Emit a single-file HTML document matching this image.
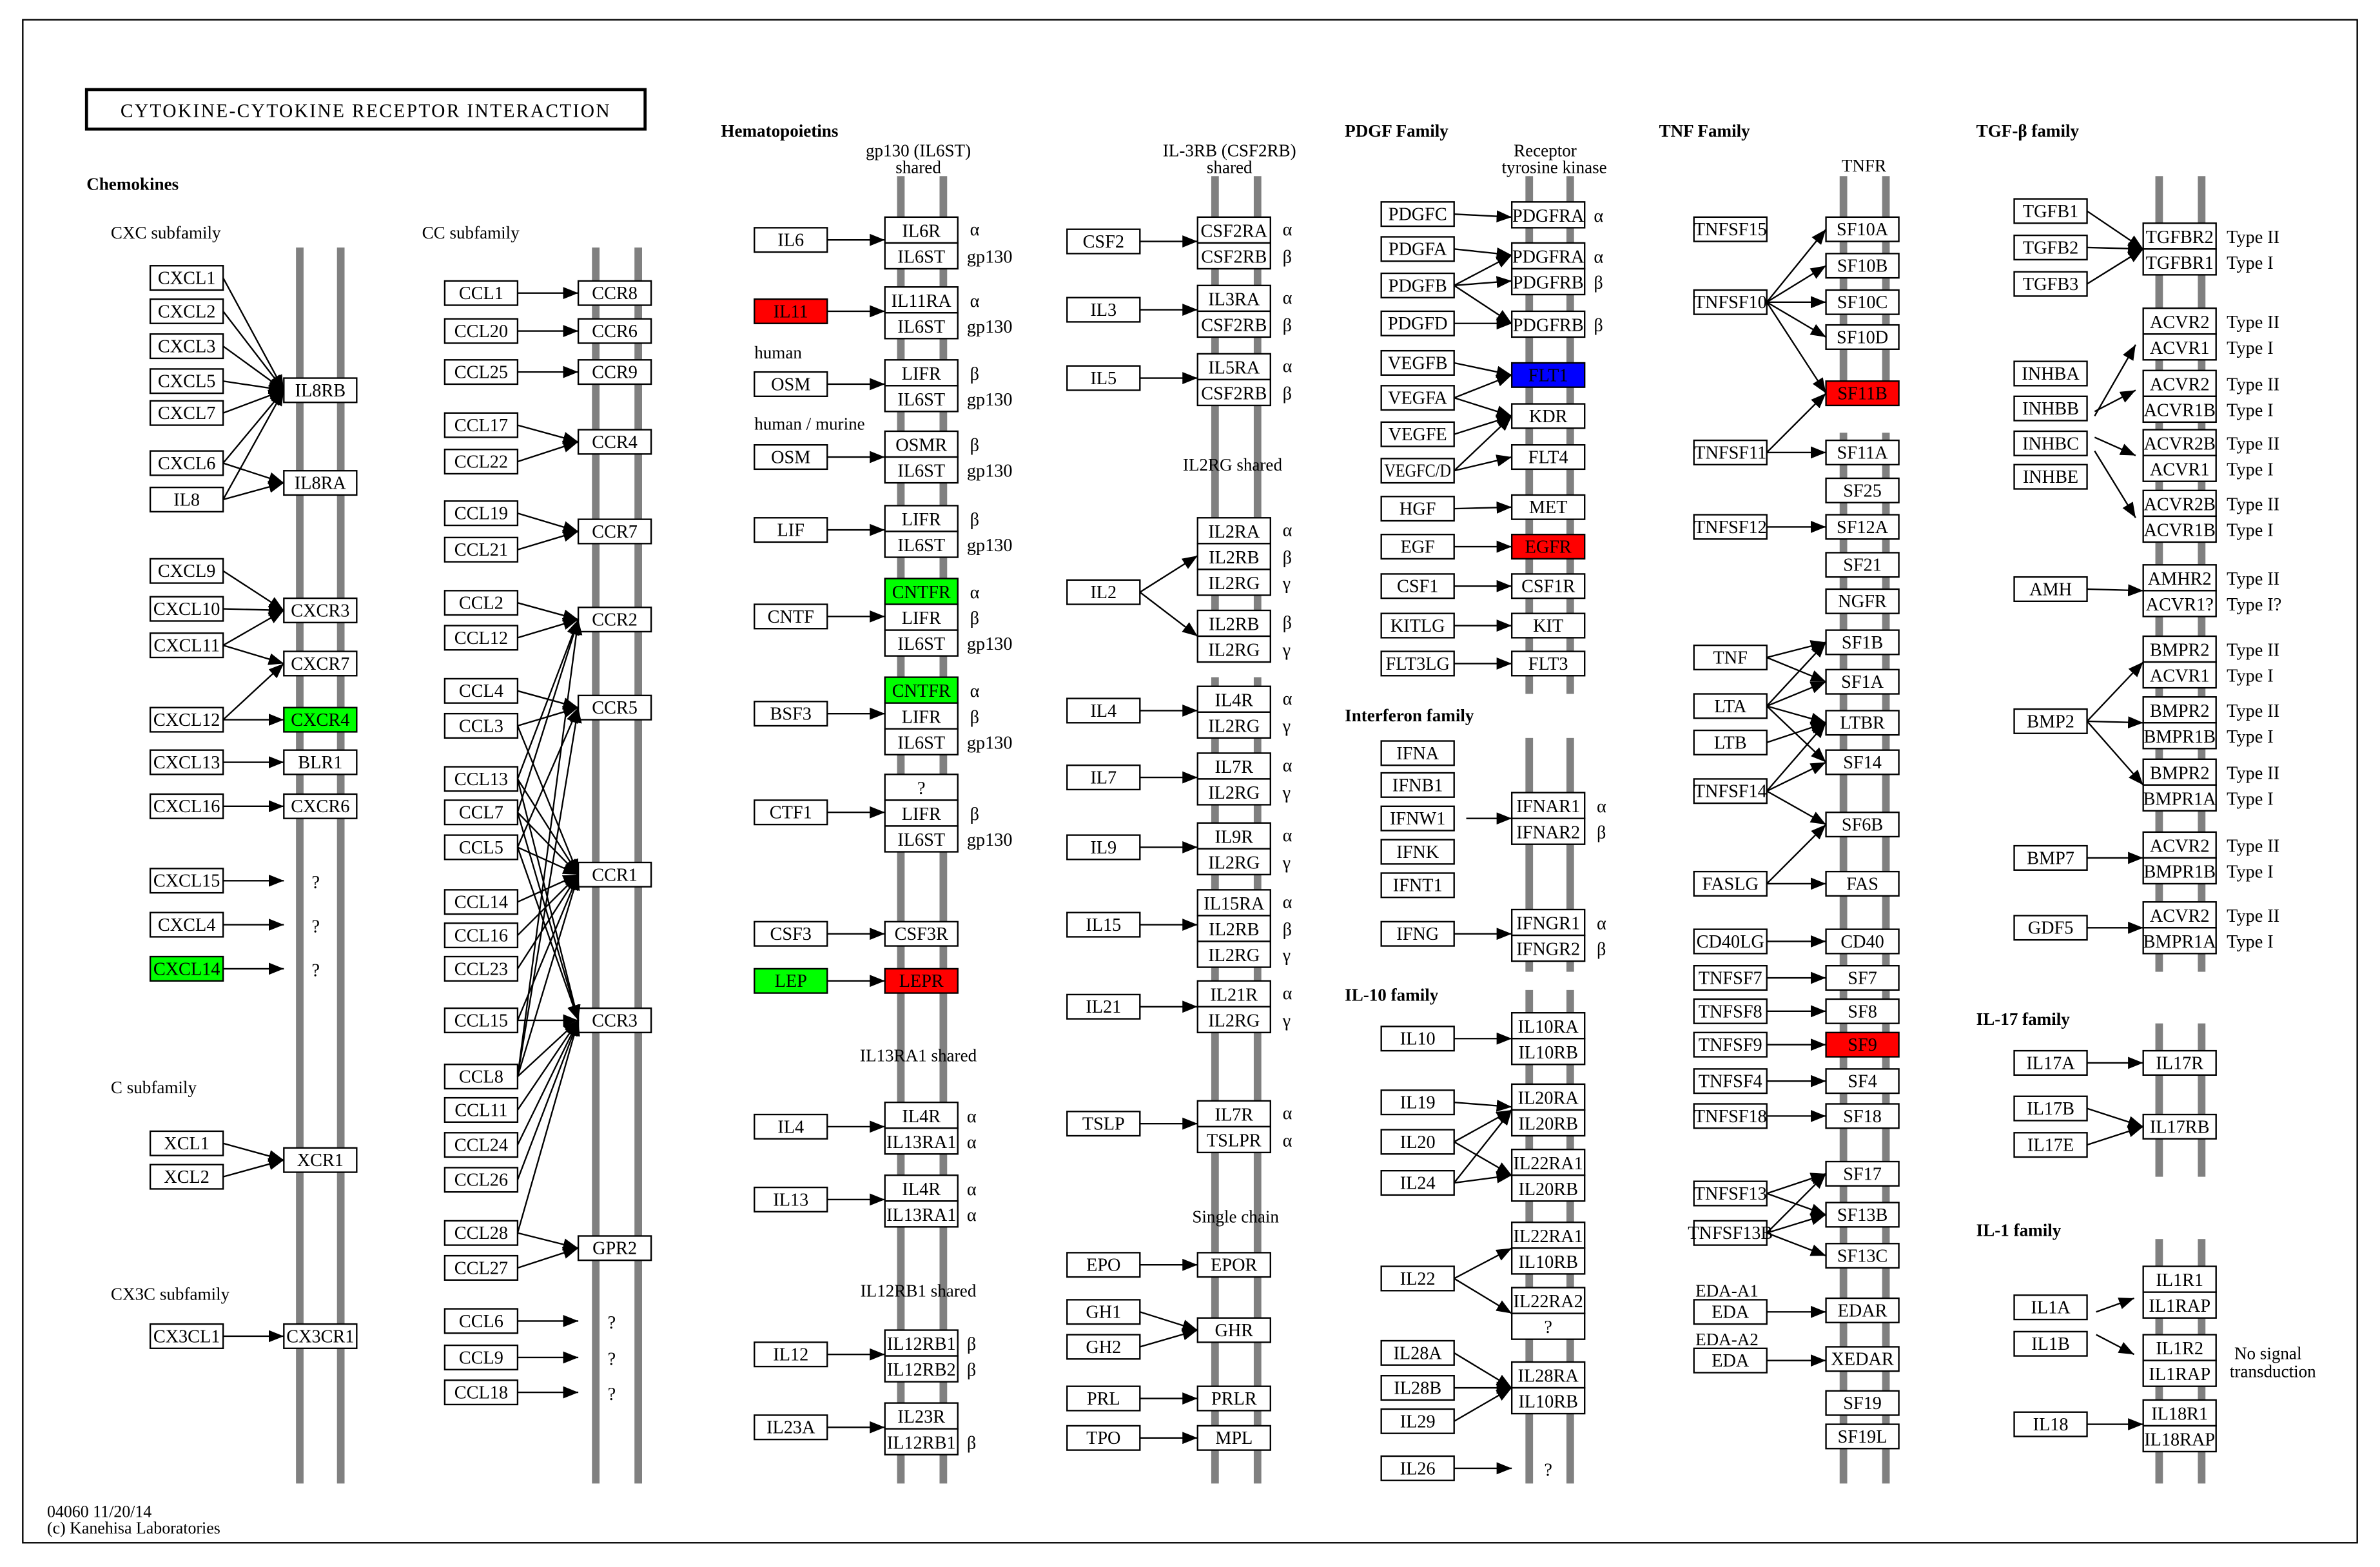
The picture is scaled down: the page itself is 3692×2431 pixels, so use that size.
<!DOCTYPE html>
<html><head><meta charset="utf-8">
<style>
html,body{margin:0;padding:0;background:#fff;}
svg{display:block;}
text{font-family:"Liberation Serif",serif;font-size:12px;fill:#000;}
.c text,text.c{text-anchor:middle;}
rect{fill:#fff;stroke:#000;stroke-width:1;}
.bar{fill:#808080;stroke:none;}
line,polyline{stroke:#000;stroke-width:1;fill:none;}
.h{font-weight:bold;font-size:11.5px;}
.s{font-size:11.5px;}
.r{fill:#ff0000;}
.g{fill:#00ff00;}
.bl{fill:#0000ff;}
</style></head>
<body>
<svg width="3692" height="2431" viewBox="0 0 1568 1032" preserveAspectRatio="none" xmlns="http://www.w3.org/2000/svg">
<defs>
<marker id="a" viewBox="0 0 10 8" refX="10" refY="4" markerWidth="10" markerHeight="8" markerUnits="userSpaceOnUse" orient="auto"><path d="M0,0 L10,4 L0,8 z" fill="#000"/></marker>
</defs>
<rect x="15" y="13" width="1538" height="1003" style="stroke-width:1"/>
<rect x="57" y="59" width="368" height="26" style="stroke-width:2"/>
<text x="241" y="77" class="c" style="text-anchor:middle;font-size:12.5px;letter-spacing:1px">CYTOKINE-CYTOKINE RECEPTOR INTERACTION</text>
<text x="31" y="999" style="font-size:11px">04060 11/20/14</text>
<text x="31" y="1010" style="font-size:11px">(c) Kanehisa Laboratories</text>

<!-- membrane bars -->
<g class="bars">
<rect class="bar" x="195" y="163" width="5" height="814"/><rect class="bar" x="222" y="163" width="5" height="814"/>
<rect class="bar" x="390" y="163" width="5" height="814"/><rect class="bar" x="418" y="163" width="5" height="814"/>
<rect class="bar" x="591" y="116" width="5" height="861"/><rect class="bar" x="619" y="116" width="5" height="861"/>
<rect class="bar" x="798" y="116" width="5" height="320"/><rect class="bar" x="826" y="116" width="5" height="320"/>
<rect class="bar" x="798" y="446" width="5" height="531"/><rect class="bar" x="826" y="446" width="5" height="531"/>
<rect class="bar" x="1005" y="116" width="5" height="341"/><rect class="bar" x="1032" y="116" width="5" height="341"/>
<rect class="bar" x="1005" y="486" width="5" height="154"/><rect class="bar" x="1032" y="486" width="5" height="154"/>
<rect class="bar" x="1005" y="652" width="5" height="325"/><rect class="bar" x="1032" y="652" width="5" height="325"/>
<rect class="bar" x="1212" y="116" width="5" height="141"/><rect class="bar" x="1240" y="116" width="5" height="141"/>
<rect class="bar" x="1212" y="285" width="5" height="692"/><rect class="bar" x="1240" y="285" width="5" height="692"/>
<rect class="bar" x="1420" y="116" width="5" height="524"/><rect class="bar" x="1448" y="116" width="5" height="524"/>
<rect class="bar" x="1420" y="674" width="5" height="101"/><rect class="bar" x="1448" y="674" width="5" height="101"/>
<rect class="bar" x="1420" y="816" width="5" height="161"/><rect class="bar" x="1448" y="816" width="5" height="161"/>
</g>

<!-- section headings -->
<text x="57" y="125" class="h">Chemokines</text>
<text x="73" y="157" class="s">CXC subfamily</text>
<text x="73" y="720" class="s">C subfamily</text>
<text x="73" y="856" class="s">CX3C subfamily</text>
<text x="278" y="157" class="s">CC subfamily</text>
<text x="475" y="90" class="h">Hematopoietins</text>
<text x="605" y="103" class="s" style="text-anchor:middle">gp130 (IL6ST)</text>
<text x="605" y="114" class="s" style="text-anchor:middle">shared</text>
<text x="497" y="236" class="s">human</text>
<text x="497" y="283" class="s">human / murine</text>
<text x="605" y="699" class="s" style="text-anchor:middle">IL13RA1 shared</text>
<text x="605" y="854" class="s" style="text-anchor:middle">IL12RB1 shared</text>
<text x="810" y="103" class="s" style="text-anchor:middle">IL-3RB (CSF2RB)</text>
<text x="810" y="114" class="s" style="text-anchor:middle">shared</text>
<text x="812" y="310" class="s" style="text-anchor:middle">IL2RG shared</text>
<text x="814" y="805" class="s" style="text-anchor:middle">Single chain</text>
<text x="886" y="90" class="h">PDGF Family</text>
<text x="1018" y="103" class="s" style="text-anchor:middle">Receptor</text>
<text x="1024" y="114" class="s" style="text-anchor:middle">tyrosine kinase</text>
<text x="886" y="475" class="h">Interferon family</text>
<text x="886" y="659" class="h">IL-10 family</text>
<text x="1093" y="90" class="h">TNF Family</text>
<text x="1228" y="113" class="s" style="text-anchor:middle">TNFR</text>
<text x="1117" y="854" class="s">EDA-A1</text>
<text x="1117" y="886" class="s">EDA-A2</text>
<text x="1302" y="90" class="h">TGF-β family</text>
<text x="1302" y="675" class="h">IL-17 family</text>
<text x="1302" y="814" class="h">IL-1 family</text>
<text x="1472" y="895" class="s">No signal</text>
<text x="1469" y="907" class="s">transduction</text>

<!-- ===== Column 1 ligands ===== -->
<g class="c">
<rect x="99" y="175" width="48" height="16"/><text x="123" y="187">CXCL1</text>
<rect x="99" y="197" width="48" height="16"/><text x="123" y="209">CXCL2</text>
<rect x="99" y="220" width="48" height="16"/><text x="123" y="232">CXCL3</text>
<rect x="99" y="243" width="48" height="16"/><text x="123" y="255">CXCL5</text>
<rect x="99" y="264" width="48" height="16"/><text x="123" y="276">CXCL7</text>
<rect x="99" y="297" width="48" height="16"/><text x="123" y="309">CXCL6</text>
<rect x="99" y="321" width="48" height="16"/><text x="123" y="333">IL8</text>
<rect x="99" y="368" width="48" height="16"/><text x="123" y="380">CXCL9</text>
<rect x="99" y="393" width="48" height="16"/><text x="123" y="405">CXCL10</text>
<rect x="99" y="417" width="48" height="16"/><text x="123" y="429">CXCL11</text>
<rect x="99" y="466" width="48" height="16"/><text x="123" y="478">CXCL12</text>
<rect x="99" y="494" width="48" height="16"/><text x="123" y="506">CXCL13</text>
<rect x="99" y="523" width="48" height="16"/><text x="123" y="535">CXCL16</text>
<rect x="99" y="572" width="48" height="16"/><text x="123" y="584">CXCL15</text>
<rect x="99" y="601" width="48" height="16"/><text x="123" y="613">CXCL4</text>
<rect x="99" y="630" width="48" height="16" class="g"/><text x="123" y="642">CXCL14</text>
<rect x="99" y="745" width="48" height="16"/><text x="123" y="757">XCL1</text>
<rect x="99" y="767" width="48" height="16"/><text x="123" y="779">XCL2</text>
<rect x="99" y="872" width="48" height="16"/><text x="123" y="884">CX3CL1</text>
<!-- receptors -->
<rect x="187" y="249" width="48" height="16"/><text x="211" y="261">IL8RB</text>
<rect x="187" y="310" width="48" height="16"/><text x="211" y="322">IL8RA</text>
<rect x="187" y="394" width="48" height="16"/><text x="211" y="406">CXCR3</text>
<rect x="187" y="429" width="48" height="16"/><text x="211" y="441">CXCR7</text>
<rect x="187" y="466" width="48" height="16" class="g"/><text x="211" y="478">CXCR4</text>
<rect x="187" y="494" width="48" height="16"/><text x="211" y="506">BLR1</text>
<rect x="187" y="523" width="48" height="16"/><text x="211" y="535">CXCR6</text>
<rect x="187" y="756" width="48" height="16"/><text x="211" y="768">XCR1</text>
<rect x="187" y="872" width="48" height="16"/><text x="211" y="884">CX3CR1</text>
<text x="208" y="585">?</text><text x="208" y="614">?</text><text x="208" y="643">?</text>
</g>
<g marker-end="url(#a)">
<line x1="147" y1="183" x2="187" y2="257"/><line x1="147" y1="205" x2="187" y2="257"/>
<line x1="147" y1="228" x2="187" y2="257"/><line x1="147" y1="251" x2="187" y2="257"/>
<line x1="147" y1="272" x2="187" y2="257"/><line x1="147" y1="305" x2="187" y2="257"/>
<line x1="147" y1="329" x2="187" y2="257"/>
<line x1="147" y1="305" x2="187" y2="318"/><line x1="147" y1="329" x2="187" y2="318"/>
<line x1="147" y1="376" x2="187" y2="402"/><line x1="147" y1="401" x2="187" y2="402"/>
<line x1="147" y1="425" x2="187" y2="402"/><line x1="147" y1="425" x2="187" y2="437"/>
<line x1="147" y1="474" x2="187" y2="437"/><line x1="147" y1="474" x2="187" y2="474"/>
<line x1="147" y1="502" x2="187" y2="502"/><line x1="147" y1="531" x2="187" y2="531"/>
<line x1="147" y1="580" x2="187" y2="580"/><line x1="147" y1="609" x2="187" y2="609"/>
<line x1="147" y1="638" x2="187" y2="638"/>
<line x1="147" y1="753" x2="187" y2="764"/><line x1="147" y1="775" x2="187" y2="764"/>
<line x1="147" y1="880" x2="187" y2="880"/>
</g>

<!-- ===== Column 2 CC ===== -->
<g class="c">
<rect x="293" y="185" width="48" height="16"/><text x="317" y="197">CCL1</text>
<rect x="293" y="210" width="48" height="16"/><text x="317" y="222">CCL20</text>
<rect x="293" y="237" width="48" height="16"/><text x="317" y="249">CCL25</text>
<rect x="293" y="272" width="48" height="16"/><text x="317" y="284">CCL17</text>
<rect x="293" y="296" width="48" height="16"/><text x="317" y="308">CCL22</text>
<rect x="293" y="330" width="48" height="16"/><text x="317" y="342">CCL19</text>
<rect x="293" y="354" width="48" height="16"/><text x="317" y="366">CCL21</text>
<rect x="293" y="389" width="48" height="16"/><text x="317" y="401">CCL2</text>
<rect x="293" y="412" width="48" height="16"/><text x="317" y="424">CCL12</text>
<rect x="293" y="447" width="48" height="16"/><text x="317" y="459">CCL4</text>
<rect x="293" y="470" width="48" height="16"/><text x="317" y="482">CCL3</text>
<rect x="293" y="505" width="48" height="16"/><text x="317" y="517">CCL13</text>
<rect x="293" y="527" width="48" height="16"/><text x="317" y="539">CCL7</text>
<rect x="293" y="550" width="48" height="16"/><text x="317" y="562">CCL5</text>
<rect x="293" y="586" width="48" height="16"/><text x="317" y="598">CCL14</text>
<rect x="293" y="608" width="48" height="16"/><text x="317" y="620">CCL16</text>
<rect x="293" y="630" width="48" height="16"/><text x="317" y="642">CCL23</text>
<rect x="293" y="664" width="48" height="16"/><text x="317" y="676">CCL15</text>
<rect x="293" y="701" width="48" height="16"/><text x="317" y="713">CCL8</text>
<rect x="293" y="723" width="48" height="16"/><text x="317" y="735">CCL11</text>
<rect x="293" y="746" width="48" height="16"/><text x="317" y="758">CCL24</text>
<rect x="293" y="769" width="48" height="16"/><text x="317" y="781">CCL26</text>
<rect x="293" y="804" width="48" height="16"/><text x="317" y="816">CCL28</text>
<rect x="293" y="827" width="48" height="16"/><text x="317" y="839">CCL27</text>
<rect x="293" y="862" width="48" height="16"/><text x="317" y="874">CCL6</text>
<rect x="293" y="886" width="48" height="16"/><text x="317" y="898">CCL9</text>
<rect x="293" y="909" width="48" height="16"/><text x="317" y="921">CCL18</text>
<rect x="381" y="185" width="48" height="16"/><text x="405" y="197">CCR8</text>
<rect x="381" y="210" width="48" height="16"/><text x="405" y="222">CCR6</text>
<rect x="381" y="237" width="48" height="16"/><text x="405" y="249">CCR9</text>
<rect x="381" y="283" width="48" height="16"/><text x="405" y="295">CCR4</text>
<rect x="381" y="342" width="48" height="16"/><text x="405" y="354">CCR7</text>
<rect x="381" y="400" width="48" height="16"/><text x="405" y="412">CCR2</text>
<rect x="381" y="458" width="48" height="16"/><text x="405" y="470">CCR5</text>
<rect x="381" y="568" width="48" height="16"/><text x="405" y="580">CCR1</text>
<rect x="381" y="664" width="48" height="16"/><text x="405" y="676">CCR3</text>
<rect x="381" y="814" width="48" height="16"/><text x="405" y="826">GPR2</text>
<text x="403" y="875">?</text><text x="403" y="899">?</text><text x="403" y="922">?</text>
</g>
<g marker-end="url(#a)">
<line x1="341" y1="193" x2="381" y2="193"/><line x1="341" y1="218" x2="381" y2="218"/>
<line x1="341" y1="245" x2="381" y2="245"/>
<line x1="341" y1="280" x2="381" y2="291"/><line x1="341" y1="304" x2="381" y2="291"/>
<line x1="341" y1="338" x2="381" y2="350"/><line x1="341" y1="362" x2="381" y2="350"/>
<line x1="341" y1="397" x2="381" y2="408"/><line x1="341" y1="420" x2="381" y2="408"/>
<line x1="341" y1="513" x2="381" y2="408"/><line x1="341" y1="535" x2="381" y2="408"/>
<line x1="341" y1="709" x2="381" y2="408"/>
<line x1="341" y1="455" x2="381" y2="466"/><line x1="341" y1="478" x2="381" y2="466"/>
<line x1="341" y1="558" x2="381" y2="466"/><line x1="341" y1="709" x2="381" y2="466"/>
<line x1="341" y1="478" x2="381" y2="576"/><line x1="341" y1="513" x2="381" y2="576"/>
<line x1="341" y1="535" x2="381" y2="576"/><line x1="341" y1="558" x2="381" y2="576"/>
<line x1="341" y1="594" x2="381" y2="576"/><line x1="341" y1="616" x2="381" y2="576"/>
<line x1="341" y1="638" x2="381" y2="576"/><line x1="341" y1="672" x2="381" y2="576"/>
<line x1="341" y1="709" x2="381" y2="576"/>
<line x1="341" y1="513" x2="381" y2="672"/><line x1="341" y1="535" x2="381" y2="672"/>
<line x1="341" y1="558" x2="381" y2="672"/><line x1="341" y1="672" x2="381" y2="672"/>
<line x1="341" y1="709" x2="381" y2="672"/><line x1="341" y1="731" x2="381" y2="672"/>
<line x1="341" y1="754" x2="381" y2="672"/><line x1="341" y1="777" x2="381" y2="672"/>
<line x1="341" y1="812" x2="381" y2="672"/>
<line x1="341" y1="812" x2="381" y2="822"/><line x1="341" y1="835" x2="381" y2="822"/>
<line x1="341" y1="870" x2="381" y2="870"/><line x1="341" y1="894" x2="381" y2="894"/>
<line x1="341" y1="917" x2="381" y2="917"/>
</g>

<!-- ===== Column 3 Hematopoietins ===== -->
<g class="c">
<rect x="497" y="150" width="48" height="16"/><text x="521" y="162">IL6</text>
<rect x="497" y="197" width="48" height="16" class="r"/><text x="521" y="209">IL11</text>
<rect x="497" y="245" width="48" height="16"/><text x="521" y="257">OSM</text>
<rect x="497" y="293" width="48" height="16"/><text x="521" y="305">OSM</text>
<rect x="497" y="341" width="48" height="16"/><text x="521" y="353">LIF</text>
<rect x="497" y="398" width="48" height="16"/><text x="521" y="410">CNTF</text>
<rect x="497" y="462" width="48" height="16"/><text x="521" y="474">BSF3</text>
<rect x="497" y="527" width="48" height="16"/><text x="521" y="539">CTF1</text>
<rect x="497" y="607" width="48" height="16"/><text x="521" y="619">CSF3</text>
<rect x="497" y="638" width="48" height="16" class="g"/><text x="521" y="650">LEP</text>
<rect x="497" y="734" width="48" height="16"/><text x="521" y="746">IL4</text>
<rect x="497" y="782" width="48" height="16"/><text x="521" y="794">IL13</text>
<rect x="497" y="884" width="48" height="16"/><text x="521" y="896">IL12</text>
<rect x="497" y="932" width="48" height="16"/><text x="521" y="944">IL23A</text>

<rect x="583" y="143" width="48" height="17"/><text x="607" y="156">IL6R</text>
<rect x="583" y="160" width="48" height="17"/><text x="607" y="173">IL6ST</text>
<rect x="583" y="189" width="48" height="17"/><text x="607" y="202">IL11RA</text>
<rect x="583" y="206" width="48" height="17"/><text x="607" y="219">IL6ST</text>
<rect x="583" y="237" width="48" height="17"/><text x="607" y="250">LIFR</text>
<rect x="583" y="254" width="48" height="17"/><text x="607" y="267">IL6ST</text>
<rect x="583" y="284" width="48" height="17"/><text x="607" y="297">OSMR</text>
<rect x="583" y="301" width="48" height="17"/><text x="607" y="314">IL6ST</text>
<rect x="583" y="333" width="48" height="17"/><text x="607" y="346">LIFR</text>
<rect x="583" y="350" width="48" height="17"/><text x="607" y="363">IL6ST</text>
<rect x="583" y="381" width="48" height="17" class="g"/><text x="607" y="394">CNTFR</text>
<rect x="583" y="398" width="48" height="17"/><text x="607" y="411">LIFR</text>
<rect x="583" y="415" width="48" height="17"/><text x="607" y="428">IL6ST</text>
<rect x="583" y="446" width="48" height="17" class="g"/><text x="607" y="459">CNTFR</text>
<rect x="583" y="463" width="48" height="17"/><text x="607" y="476">LIFR</text>
<rect x="583" y="480" width="48" height="17"/><text x="607" y="493">IL6ST</text>
<rect x="583" y="510" width="48" height="17"/><text x="607" y="523">?</text>
<rect x="583" y="527" width="48" height="17"/><text x="607" y="540">LIFR</text>
<rect x="583" y="544" width="48" height="17"/><text x="607" y="557">IL6ST</text>
<rect x="583" y="607" width="48" height="16"/><text x="607" y="619">CSF3R</text>
<rect x="583" y="638" width="48" height="16" class="r"/><text x="607" y="650">LEPR</text>
<rect x="583" y="726" width="48" height="17"/><text x="607" y="739">IL4R</text>
<rect x="583" y="743" width="48" height="17"/><text x="607" y="756">IL13RA1</text>
<rect x="583" y="774" width="48" height="17"/><text x="607" y="787">IL4R</text>
<rect x="583" y="791" width="48" height="17"/><text x="607" y="804">IL13RA1</text>
<rect x="583" y="876" width="48" height="17"/><text x="607" y="889">IL12RB1</text>
<rect x="583" y="893" width="48" height="17"/><text x="607" y="906">IL12RB2</text>
<rect x="583" y="924" width="48" height="17"/><text x="607" y="937">IL23R</text>
<rect x="583" y="941" width="48" height="17"/><text x="607" y="954">IL12RB1</text>
</g>
<g class="s">
<text x="639" y="155">α</text><text x="637" y="173">gp130</text>
<text x="639" y="202">α</text><text x="637" y="219">gp130</text>
<text x="639" y="250">β</text><text x="637" y="267">gp130</text>
<text x="639" y="297">β</text><text x="637" y="314">gp130</text>
<text x="639" y="346">β</text><text x="637" y="363">gp130</text>
<text x="639" y="394">α</text><text x="639" y="411">β</text><text x="637" y="428">gp130</text>
<text x="639" y="459">α</text><text x="639" y="476">β</text><text x="637" y="493">gp130</text>
<text x="639" y="540">β</text><text x="637" y="557">gp130</text>
<text x="637" y="739">α</text><text x="637" y="756">α</text>
<text x="637" y="787">α</text><text x="637" y="804">α</text>
<text x="637" y="889">β</text><text x="637" y="906">β</text>
<text x="637" y="954">β</text>
</g>
<g marker-end="url(#a)">
<line x1="545" y1="158" x2="583" y2="158"/><line x1="545" y1="205" x2="583" y2="205"/>
<line x1="545" y1="253" x2="583" y2="253"/><line x1="545" y1="301" x2="583" y2="301"/>
<line x1="545" y1="349" x2="583" y2="349"/><line x1="545" y1="406" x2="583" y2="406"/>
<line x1="545" y1="470" x2="583" y2="470"/><line x1="545" y1="535" x2="583" y2="535"/>
<line x1="545" y1="615" x2="583" y2="615"/><line x1="545" y1="646" x2="583" y2="646"/>
<line x1="545" y1="742" x2="583" y2="742"/><line x1="545" y1="790" x2="583" y2="790"/>
<line x1="545" y1="892" x2="583" y2="892"/><line x1="545" y1="940" x2="583" y2="940"/>
</g>

<!-- ===== Column 4 ===== -->
<g class="c">
<rect x="703" y="151" width="48" height="16"/><text x="727" y="163">CSF2</text>
<rect x="703" y="196" width="48" height="16"/><text x="727" y="208">IL3</text>
<rect x="703" y="241" width="48" height="16"/><text x="727" y="253">IL5</text>
<rect x="703" y="382" width="48" height="16"/><text x="727" y="394">IL2</text>
<rect x="703" y="460" width="48" height="16"/><text x="727" y="472">IL4</text>
<rect x="703" y="504" width="48" height="16"/><text x="727" y="516">IL7</text>
<rect x="703" y="550" width="48" height="16"/><text x="727" y="562">IL9</text>
<rect x="703" y="601" width="48" height="16"/><text x="727" y="613">IL15</text>
<rect x="703" y="655" width="48" height="16"/><text x="727" y="667">IL21</text>
<rect x="703" y="732" width="48" height="16"/><text x="727" y="744">TSLP</text>
<rect x="703" y="825" width="48" height="16"/><text x="727" y="837">EPO</text>
<rect x="703" y="856" width="48" height="16"/><text x="727" y="868">GH1</text>
<rect x="703" y="879" width="48" height="16"/><text x="727" y="891">GH2</text>
<rect x="703" y="913" width="48" height="16"/><text x="727" y="925">PRL</text>
<rect x="703" y="939" width="48" height="16"/><text x="727" y="951">TPO</text>

<rect x="789" y="143" width="48" height="17"/><text x="813" y="156">CSF2RA</text>
<rect x="789" y="160" width="48" height="17"/><text x="813" y="173">CSF2RB</text>
<rect x="789" y="188" width="48" height="17"/><text x="813" y="201">IL3RA</text>
<rect x="789" y="205" width="48" height="17"/><text x="813" y="218">CSF2RB</text>
<rect x="789" y="233" width="48" height="17"/><text x="813" y="246">IL5RA</text>
<rect x="789" y="250" width="48" height="17"/><text x="813" y="263">CSF2RB</text>
<rect x="789" y="341" width="48" height="17"/><text x="813" y="354">IL2RA</text>
<rect x="789" y="358" width="48" height="17"/><text x="813" y="371">IL2RB</text>
<rect x="789" y="375" width="48" height="17"/><text x="813" y="388">IL2RG</text>
<rect x="789" y="402" width="48" height="17"/><text x="813" y="415">IL2RB</text>
<rect x="789" y="419" width="48" height="17"/><text x="813" y="432">IL2RG</text>
<rect x="789" y="452" width="48" height="17"/><text x="813" y="465">IL4R</text>
<rect x="789" y="469" width="48" height="17"/><text x="813" y="482">IL2RG</text>
<rect x="789" y="496" width="48" height="17"/><text x="813" y="509">IL7R</text>
<rect x="789" y="513" width="48" height="17"/><text x="813" y="526">IL2RG</text>
<rect x="789" y="542" width="48" height="17"/><text x="813" y="555">IL9R</text>
<rect x="789" y="559" width="48" height="17"/><text x="813" y="572">IL2RG</text>
<rect x="789" y="586" width="48" height="17"/><text x="813" y="599">IL15RA</text>
<rect x="789" y="603" width="48" height="17"/><text x="813" y="616">IL2RB</text>
<rect x="789" y="620" width="48" height="17"/><text x="813" y="633">IL2RG</text>
<rect x="789" y="646" width="48" height="17"/><text x="813" y="659">IL21R</text>
<rect x="789" y="663" width="48" height="17"/><text x="813" y="676">IL2RG</text>
<rect x="789" y="725" width="48" height="17"/><text x="813" y="738">IL7R</text>
<rect x="789" y="742" width="48" height="17"/><text x="813" y="755">TSLPR</text>
<rect x="789" y="825" width="48" height="16"/><text x="813" y="837">EPOR</text>
<rect x="789" y="868" width="48" height="16"/><text x="813" y="880">GHR</text>
<rect x="789" y="913" width="48" height="16"/><text x="813" y="925">PRLR</text>
<rect x="789" y="939" width="48" height="16"/><text x="813" y="951">MPL</text>
</g>
<g class="s">
<text x="845" y="155">α</text><text x="845" y="173">β</text>
<text x="845" y="200">α</text><text x="845" y="218">β</text>
<text x="845" y="245">α</text><text x="845" y="263">β</text>
<text x="845" y="353">α</text><text x="845" y="371">β</text><text x="845" y="388">γ</text>
<text x="845" y="414">β</text><text x="845" y="432">γ</text>
<text x="845" y="464">α</text><text x="845" y="482">γ</text>
<text x="845" y="508">α</text><text x="845" y="526">γ</text>
<text x="845" y="554">α</text><text x="845" y="572">γ</text>
<text x="845" y="598">α</text><text x="845" y="616">β</text><text x="845" y="633">γ</text>
<text x="845" y="658">α</text><text x="845" y="676">γ</text>
<text x="845" y="737">α</text><text x="845" y="755">α</text>
</g>
<g marker-end="url(#a)">
<line x1="751" y1="159" x2="789" y2="159"/><line x1="751" y1="204" x2="789" y2="204"/>
<line x1="751" y1="249" x2="789" y2="249"/>
<line x1="751" y1="390" x2="789" y2="366"/><line x1="751" y1="390" x2="789" y2="419"/>
<line x1="751" y1="468" x2="789" y2="468"/><line x1="751" y1="512" x2="789" y2="512"/>
<line x1="751" y1="558" x2="789" y2="558"/><line x1="751" y1="609" x2="789" y2="609"/>
<line x1="751" y1="663" x2="789" y2="663"/><line x1="751" y1="740" x2="789" y2="740"/>
<line x1="751" y1="833" x2="789" y2="833"/>
<line x1="751" y1="864" x2="789" y2="876"/><line x1="751" y1="887" x2="789" y2="876"/>
<line x1="751" y1="921" x2="789" y2="921"/><line x1="751" y1="947" x2="789" y2="947"/>
</g>

<!-- ===== Column 5 ===== -->
<g class="c">
<rect x="910" y="133" width="48" height="16"/><text x="934" y="145">PDGFC</text>
<rect x="910" y="156" width="48" height="16"/><text x="934" y="168">PDGFA</text>
<rect x="910" y="180" width="48" height="16"/><text x="934" y="192">PDGFB</text>
<rect x="910" y="205" width="48" height="16"/><text x="934" y="217">PDGFD</text>
<rect x="910" y="231" width="48" height="16"/><text x="934" y="243">VEGFB</text>
<rect x="910" y="254" width="48" height="16"/><text x="934" y="266">VEGFA</text>
<rect x="910" y="278" width="48" height="16"/><text x="934" y="290">VEGFE</text>
<rect x="910" y="302" width="48" height="16"/><text x="934" y="314" textLength="44" lengthAdjust="spacingAndGlyphs">VEGFC/D</text>
<rect x="910" y="327" width="48" height="16"/><text x="934" y="339">HGF</text>
<rect x="910" y="352" width="48" height="16"/><text x="934" y="364">EGF</text>
<rect x="910" y="378" width="48" height="16"/><text x="934" y="390">CSF1</text>
<rect x="910" y="404" width="48" height="16"/><text x="934" y="416">KITLG</text>
<rect x="910" y="429" width="48" height="16"/><text x="934" y="441">FLT3LG</text>
<rect x="910" y="488" width="48" height="16"/><text x="934" y="500">IFNA</text>
<rect x="910" y="509" width="48" height="16"/><text x="934" y="521">IFNB1</text>
<rect x="910" y="531" width="48" height="16"/><text x="934" y="543">IFNW1</text>
<rect x="910" y="553" width="48" height="16"/><text x="934" y="565">IFNK</text>
<rect x="910" y="575" width="48" height="16"/><text x="934" y="587">IFNT1</text>
<rect x="910" y="607" width="48" height="16"/><text x="934" y="619">IFNG</text>
<rect x="910" y="676" width="48" height="16"/><text x="934" y="688">IL10</text>
<rect x="910" y="718" width="48" height="16"/><text x="934" y="730">IL19</text>
<rect x="910" y="744" width="48" height="16"/><text x="934" y="756">IL20</text>
<rect x="910" y="771" width="48" height="16"/><text x="934" y="783">IL24</text>
<rect x="910" y="834" width="48" height="16"/><text x="934" y="846">IL22</text>
<rect x="910" y="883" width="48" height="16"/><text x="934" y="895">IL28A</text>
<rect x="910" y="906" width="48" height="16"/><text x="934" y="918">IL28B</text>
<rect x="910" y="928" width="48" height="16"/><text x="934" y="940">IL29</text>
<rect x="910" y="959" width="48" height="16"/><text x="934" y="971">IL26</text>

<rect x="996" y="133" width="48" height="17"/><text x="1020" y="146">PDGFRA</text>
<rect x="996" y="160" width="48" height="17"/><text x="1020" y="173">PDGFRA</text>
<rect x="996" y="177" width="48" height="17"/><text x="1020" y="190">PDGFRB</text>
<rect x="996" y="205" width="48" height="17"/><text x="1020" y="218">PDGFRB</text>
<rect x="996" y="239" width="48" height="16" class="bl"/><text x="1020" y="251">FLT1</text>
<rect x="996" y="266" width="48" height="16"/><text x="1020" y="278">KDR</text>
<rect x="996" y="293" width="48" height="16"/><text x="1020" y="305">FLT4</text>
<rect x="996" y="326" width="48" height="16"/><text x="1020" y="338">MET</text>
<rect x="996" y="352" width="48" height="16" class="r"/><text x="1020" y="364">EGFR</text>
<rect x="996" y="378" width="48" height="16"/><text x="1020" y="390">CSF1R</text>
<rect x="996" y="404" width="48" height="16"/><text x="1020" y="416">KIT</text>
<rect x="996" y="429" width="48" height="16"/><text x="1020" y="441">FLT3</text>
<rect x="996" y="522" width="48" height="17"/><text x="1020" y="535">IFNAR1</text>
<rect x="996" y="539" width="48" height="17"/><text x="1020" y="552">IFNAR2</text>
<rect x="996" y="599" width="48" height="17"/><text x="1020" y="612">IFNGR1</text>
<rect x="996" y="616" width="48" height="17"/><text x="1020" y="629">IFNGR2</text>
<rect x="996" y="667" width="48" height="17"/><text x="1020" y="680">IL10RA</text>
<rect x="996" y="684" width="48" height="17"/><text x="1020" y="697">IL10RB</text>
<rect x="996" y="714" width="48" height="17"/><text x="1020" y="727">IL20RA</text>
<rect x="996" y="731" width="48" height="17"/><text x="1020" y="744">IL20RB</text>
<rect x="996" y="757" width="48" height="17"/><text x="1020" y="770">IL22RA1</text>
<rect x="996" y="774" width="48" height="17"/><text x="1020" y="787">IL20RB</text>
<rect x="996" y="805" width="48" height="17"/><text x="1020" y="818">IL22RA1</text>
<rect x="996" y="822" width="48" height="17"/><text x="1020" y="835">IL10RB</text>
<rect x="996" y="848" width="48" height="17"/><text x="1020" y="861">IL22RA2</text>
<rect x="996" y="865" width="48" height="17"/><text x="1020" y="878">?</text>
<rect x="996" y="897" width="48" height="17"/><text x="1020" y="910">IL28RA</text>
<rect x="996" y="914" width="48" height="17"/><text x="1020" y="927">IL10RB</text>
<text x="1020" y="972">?</text>
</g>
<g class="s">
<text x="1050" y="146">α</text><text x="1050" y="173">α</text><text x="1050" y="190">β</text><text x="1050" y="218">β</text>
<text x="1052" y="535">α</text><text x="1052" y="552">β</text>
<text x="1052" y="612">α</text><text x="1052" y="629">β</text>
</g>
<g marker-end="url(#a)">
<line x1="958" y1="141" x2="996" y2="143"/><line x1="958" y1="164" x2="996" y2="168"/>
<line x1="958" y1="188" x2="996" y2="168"/><line x1="958" y1="188" x2="996" y2="185"/>
<line x1="958" y1="188" x2="996" y2="213"/><line x1="958" y1="213" x2="996" y2="213"/>
<line x1="958" y1="239" x2="996" y2="247"/><line x1="958" y1="262" x2="996" y2="247"/>
<line x1="958" y1="262" x2="996" y2="274"/><line x1="958" y1="286" x2="996" y2="274"/>
<line x1="958" y1="310" x2="996" y2="274"/><line x1="958" y1="310" x2="996" y2="301"/>
<line x1="958" y1="335" x2="996" y2="334"/><line x1="958" y1="360" x2="996" y2="360"/>
<line x1="958" y1="386" x2="996" y2="386"/><line x1="958" y1="412" x2="996" y2="412"/>
<line x1="958" y1="437" x2="996" y2="437"/>
<line x1="966" y1="539" x2="996" y2="539"/><line x1="958" y1="615" x2="996" y2="615"/>
<line x1="958" y1="684" x2="996" y2="684"/>
<line x1="958" y1="726" x2="996" y2="729"/><line x1="958" y1="752" x2="996" y2="731"/>
<line x1="958" y1="779" x2="996" y2="731"/><line x1="958" y1="752" x2="996" y2="774"/>
<line x1="958" y1="779" x2="996" y2="774"/>
<line x1="958" y1="842" x2="996" y2="822"/><line x1="958" y1="842" x2="996" y2="865"/>
<line x1="958" y1="891" x2="996" y2="914"/><line x1="958" y1="914" x2="996" y2="914"/>
<line x1="958" y1="936" x2="996" y2="914"/>
<line x1="958" y1="967" x2="996" y2="967"/>
</g>

<!-- ===== Column 6 TNF ===== -->
<g class="c">
<rect x="1116" y="143" width="48" height="16"/><text x="1140" y="155">TNFSF15</text>
<rect x="1116" y="191" width="48" height="16"/><text x="1140" y="203">TNFSF10</text>
<rect x="1116" y="290" width="48" height="16"/><text x="1140" y="302">TNFSF11</text>
<rect x="1116" y="339" width="48" height="16"/><text x="1140" y="351">TNFSF12</text>
<rect x="1116" y="425" width="48" height="16"/><text x="1140" y="437">TNF</text>
<rect x="1116" y="457" width="48" height="16"/><text x="1140" y="469">LTA</text>
<rect x="1116" y="481" width="48" height="16"/><text x="1140" y="493">LTB</text>
<rect x="1116" y="513" width="48" height="16"/><text x="1140" y="525">TNFSF14</text>
<rect x="1116" y="574" width="48" height="16"/><text x="1140" y="586">FASLG</text>
<rect x="1116" y="612" width="48" height="16"/><text x="1140" y="624">CD40LG</text>
<rect x="1116" y="636" width="48" height="16"/><text x="1140" y="648">TNFSF7</text>
<rect x="1116" y="658" width="48" height="16"/><text x="1140" y="670">TNFSF8</text>
<rect x="1116" y="680" width="48" height="16"/><text x="1140" y="692">TNFSF9</text>
<rect x="1116" y="704" width="48" height="16"/><text x="1140" y="716">TNFSF4</text>
<rect x="1116" y="727" width="48" height="16"/><text x="1140" y="739">TNFSF18</text>
<rect x="1116" y="778" width="48" height="16"/><text x="1140" y="790">TNFSF13</text>
<rect x="1116" y="804" width="48" height="16"/><text x="1140" y="816">TNFSF13B</text>
<rect x="1116" y="856" width="48" height="16"/><text x="1140" y="868">EDA</text>
<rect x="1116" y="888" width="48" height="16"/><text x="1140" y="900">EDA</text>

<rect x="1203" y="143" width="48" height="16"/><text x="1227" y="155">SF10A</text>
<rect x="1203" y="167" width="48" height="16"/><text x="1227" y="179">SF10B</text>
<rect x="1203" y="191" width="48" height="16"/><text x="1227" y="203">SF10C</text>
<rect x="1203" y="214" width="48" height="16"/><text x="1227" y="226">SF10D</text>
<rect x="1203" y="251" width="48" height="16" class="r"/><text x="1227" y="263">SF11B</text>
<rect x="1203" y="290" width="48" height="16"/><text x="1227" y="302">SF11A</text>
<rect x="1203" y="315" width="48" height="16"/><text x="1227" y="327">SF25</text>
<rect x="1203" y="339" width="48" height="16"/><text x="1227" y="351">SF12A</text>
<rect x="1203" y="364" width="48" height="16"/><text x="1227" y="376">SF21</text>
<rect x="1203" y="388" width="48" height="16"/><text x="1227" y="400">NGFR</text>
<rect x="1203" y="415" width="48" height="16"/><text x="1227" y="427">SF1B</text>
<rect x="1203" y="441" width="48" height="16"/><text x="1227" y="453">SF1A</text>
<rect x="1203" y="468" width="48" height="16"/><text x="1227" y="480">LTBR</text>
<rect x="1203" y="494" width="48" height="16"/><text x="1227" y="506">SF14</text>
<rect x="1203" y="535" width="48" height="16"/><text x="1227" y="547">SF6B</text>
<rect x="1203" y="574" width="48" height="16"/><text x="1227" y="586">FAS</text>
<rect x="1203" y="612" width="48" height="16"/><text x="1227" y="624">CD40</text>
<rect x="1203" y="636" width="48" height="16"/><text x="1227" y="648">SF7</text>
<rect x="1203" y="658" width="48" height="16"/><text x="1227" y="670">SF8</text>
<rect x="1203" y="680" width="48" height="16" class="r"/><text x="1227" y="692">SF9</text>
<rect x="1203" y="704" width="48" height="16"/><text x="1227" y="716">SF4</text>
<rect x="1203" y="727" width="48" height="16"/><text x="1227" y="739">SF18</text>
<rect x="1203" y="765" width="48" height="16"/><text x="1227" y="777">SF17</text>
<rect x="1203" y="792" width="48" height="16"/><text x="1227" y="804">SF13B</text>
<rect x="1203" y="819" width="48" height="16"/><text x="1227" y="831">SF13C</text>
<rect x="1203" y="855" width="48" height="16"/><text x="1227" y="867">EDAR</text>
<rect x="1203" y="887" width="48" height="16"/><text x="1227" y="899">XEDAR</text>
<rect x="1203" y="916" width="48" height="16"/><text x="1227" y="928">SF19</text>
<rect x="1203" y="938" width="48" height="16"/><text x="1227" y="950">SF19L</text>
</g>
<g marker-end="url(#a)">
<line x1="1164" y1="199" x2="1203" y2="151"/><line x1="1164" y1="199" x2="1203" y2="175"/>
<line x1="1164" y1="199" x2="1203" y2="199"/><line x1="1164" y1="199" x2="1203" y2="222"/>
<line x1="1164" y1="199" x2="1203" y2="259"/>
<line x1="1164" y1="298" x2="1203" y2="259"/><line x1="1164" y1="298" x2="1203" y2="298"/>
<line x1="1164" y1="347" x2="1203" y2="347"/>
<line x1="1164" y1="433" x2="1203" y2="423"/><line x1="1164" y1="433" x2="1203" y2="449"/>
<line x1="1164" y1="465" x2="1203" y2="423"/><line x1="1164" y1="465" x2="1203" y2="449"/>
<line x1="1164" y1="465" x2="1203" y2="476"/><line x1="1164" y1="465" x2="1203" y2="502"/>
<line x1="1164" y1="489" x2="1203" y2="476"/>
<line x1="1164" y1="521" x2="1203" y2="476"/><line x1="1164" y1="521" x2="1203" y2="502"/>
<line x1="1164" y1="521" x2="1203" y2="543"/>
<line x1="1164" y1="582" x2="1203" y2="543"/><line x1="1164" y1="582" x2="1203" y2="582"/>
<line x1="1164" y1="620" x2="1203" y2="620"/><line x1="1164" y1="644" x2="1203" y2="644"/>
<line x1="1164" y1="666" x2="1203" y2="666"/><line x1="1164" y1="688" x2="1203" y2="688"/>
<line x1="1164" y1="712" x2="1203" y2="712"/><line x1="1164" y1="735" x2="1203" y2="735"/>
<line x1="1164" y1="786" x2="1203" y2="773"/><line x1="1164" y1="786" x2="1203" y2="800"/>
<line x1="1164" y1="812" x2="1203" y2="773"/><line x1="1164" y1="812" x2="1203" y2="800"/>
<line x1="1164" y1="812" x2="1203" y2="827"/>
<line x1="1164" y1="864" x2="1203" y2="864"/><line x1="1164" y1="896" x2="1203" y2="896"/>
</g>

<!-- ===== Column 7 TGF ===== -->
<g class="c">
<rect x="1327" y="131" width="48" height="16"/><text x="1351" y="143">TGFB1</text>
<rect x="1327" y="155" width="48" height="16"/><text x="1351" y="167">TGFB2</text>
<rect x="1327" y="179" width="48" height="16"/><text x="1351" y="191">TGFB3</text>
<rect x="1327" y="238" width="48" height="16"/><text x="1351" y="250">INHBA</text>
<rect x="1327" y="261" width="48" height="16"/><text x="1351" y="273">INHBB</text>
<rect x="1327" y="284" width="48" height="16"/><text x="1351" y="296">INHBC</text>
<rect x="1327" y="306" width="48" height="16"/><text x="1351" y="318">INHBE</text>
<rect x="1327" y="380" width="48" height="16"/><text x="1351" y="392">AMH</text>
<rect x="1327" y="467" width="48" height="16"/><text x="1351" y="479">BMP2</text>
<rect x="1327" y="557" width="48" height="16"/><text x="1351" y="569">BMP7</text>
<rect x="1327" y="603" width="48" height="16"/><text x="1351" y="615">GDF5</text>
<rect x="1327" y="692" width="48" height="16"/><text x="1351" y="704">IL17A</text>
<rect x="1327" y="722" width="48" height="16"/><text x="1351" y="734">IL17B</text>
<rect x="1327" y="746" width="48" height="16"/><text x="1351" y="758">IL17E</text>
<rect x="1327" y="853" width="48" height="16"/><text x="1351" y="865">IL1A</text>
<rect x="1327" y="877" width="48" height="16"/><text x="1351" y="889">IL1B</text>
<rect x="1327" y="930" width="48" height="16"/><text x="1351" y="942">IL18</text>

<rect x="1412" y="147" width="48" height="17"/><text x="1436" y="160">TGFBR2</text>
<rect x="1412" y="164" width="48" height="17"/><text x="1436" y="177">TGFBR1</text>
<rect x="1412" y="203" width="48" height="17"/><text x="1436" y="216">ACVR2</text>
<rect x="1412" y="220" width="48" height="17"/><text x="1436" y="233">ACVR1</text>
<rect x="1412" y="244" width="48" height="17"/><text x="1436" y="257">ACVR2</text>
<rect x="1412" y="261" width="48" height="17"/><text x="1436" y="274">ACVR1B</text>
<rect x="1412" y="283" width="48" height="17"/><text x="1436" y="296">ACVR2B</text>
<rect x="1412" y="300" width="48" height="17"/><text x="1436" y="313">ACVR1</text>
<rect x="1412" y="323" width="48" height="17"/><text x="1436" y="336">ACVR2B</text>
<rect x="1412" y="340" width="48" height="17"/><text x="1436" y="353">ACVR1B</text>
<rect x="1412" y="372" width="48" height="17"/><text x="1436" y="385">AMHR2</text>
<rect x="1412" y="389" width="48" height="17"/><text x="1436" y="402">ACVR1?</text>
<rect x="1412" y="419" width="48" height="17"/><text x="1436" y="432">BMPR2</text>
<rect x="1412" y="436" width="48" height="17"/><text x="1436" y="449">ACVR1</text>
<rect x="1412" y="459" width="48" height="17"/><text x="1436" y="472">BMPR2</text>
<rect x="1412" y="476" width="48" height="17"/><text x="1436" y="489">BMPR1B</text>
<rect x="1412" y="500" width="48" height="17"/><text x="1436" y="513">BMPR2</text>
<rect x="1412" y="517" width="48" height="17"/><text x="1436" y="530">BMPR1A</text>
<rect x="1412" y="548" width="48" height="17"/><text x="1436" y="561">ACVR2</text>
<rect x="1412" y="565" width="48" height="17"/><text x="1436" y="578">BMPR1B</text>
<rect x="1412" y="594" width="48" height="17"/><text x="1436" y="607">ACVR2</text>
<rect x="1412" y="611" width="48" height="17"/><text x="1436" y="624">BMPR1A</text>
<rect x="1412" y="692" width="48" height="16"/><text x="1436" y="704">IL17R</text>
<rect x="1412" y="734" width="48" height="16"/><text x="1436" y="746">IL17RB</text>
<rect x="1412" y="834" width="48" height="17"/><text x="1436" y="847">IL1R1</text>
<rect x="1412" y="851" width="48" height="17"/><text x="1436" y="864">IL1RAP</text>
<rect x="1412" y="879" width="48" height="17"/><text x="1436" y="892">IL1R2</text>
<rect x="1412" y="896" width="48" height="17"/><text x="1436" y="909">IL1RAP</text>
<rect x="1412" y="922" width="48" height="17"/><text x="1436" y="935">IL18R1</text>
<rect x="1412" y="939" width="48" height="17"/><text x="1436" y="952">IL18RAP</text>
</g>
<g class="s">
<text x="1467" y="160">Type II</text><text x="1467" y="177">Type I</text>
<text x="1467" y="216">Type II</text><text x="1467" y="233">Type I</text>
<text x="1467" y="257">Type II</text><text x="1467" y="274">Type I</text>
<text x="1467" y="296">Type II</text><text x="1467" y="313">Type I</text>
<text x="1467" y="336">Type II</text><text x="1467" y="353">Type I</text>
<text x="1467" y="385">Type II</text><text x="1467" y="402">Type I?</text>
<text x="1467" y="432">Type II</text><text x="1467" y="449">Type I</text>
<text x="1467" y="472">Type II</text><text x="1467" y="489">Type I</text>
<text x="1467" y="513">Type II</text><text x="1467" y="530">Type I</text>
<text x="1467" y="561">Type II</text><text x="1467" y="578">Type I</text>
<text x="1467" y="607">Type II</text><text x="1467" y="624">Type I</text>
</g>
<g marker-end="url(#a)">
<line x1="1375" y1="139" x2="1412" y2="164"/><line x1="1375" y1="163" x2="1412" y2="164"/>
<line x1="1375" y1="187" x2="1412" y2="164"/>
<line x1="1380" y1="274" x2="1407" y2="227"/><line x1="1380" y1="271" x2="1407" y2="257"/>
<line x1="1380" y1="288" x2="1407" y2="300"/><line x1="1380" y1="297" x2="1407" y2="341"/>
<line x1="1375" y1="388" x2="1412" y2="389"/>
<line x1="1375" y1="475" x2="1412" y2="436"/><line x1="1375" y1="475" x2="1412" y2="476"/>
<line x1="1375" y1="475" x2="1412" y2="517"/>
<line x1="1375" y1="565" x2="1412" y2="565"/><line x1="1375" y1="611" x2="1412" y2="611"/>
<line x1="1375" y1="700" x2="1412" y2="700"/>
<line x1="1375" y1="730" x2="1412" y2="742"/><line x1="1375" y1="754" x2="1412" y2="742"/>
<line x1="1381" y1="864" x2="1406" y2="855"/><line x1="1381" y1="879" x2="1406" y2="892"/>
<line x1="1375" y1="938" x2="1412" y2="938"/>
</g>
</svg>
</body></html>
